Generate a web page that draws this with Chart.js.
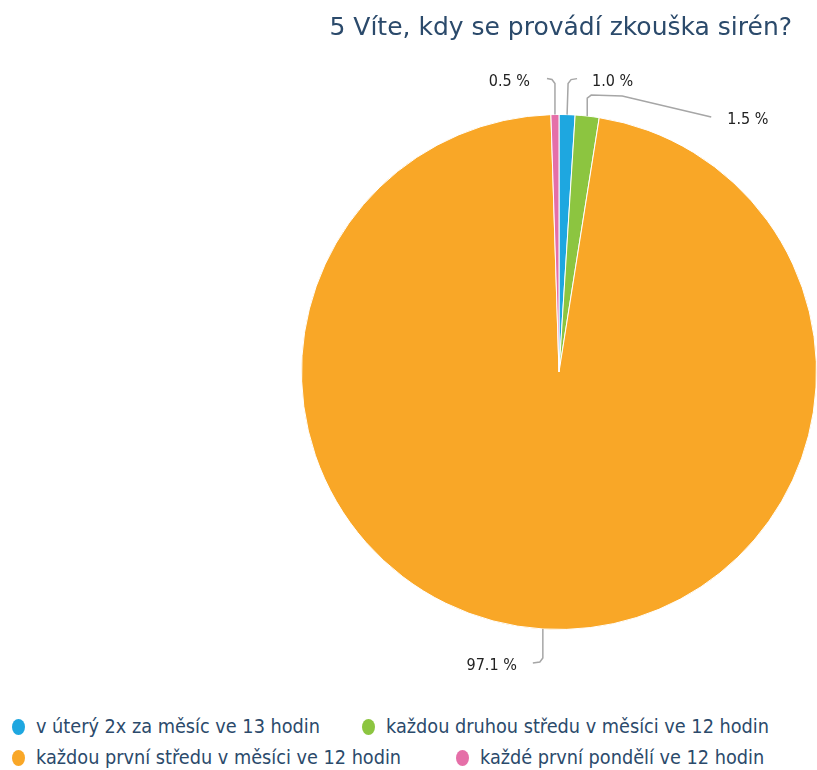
<!DOCTYPE html>
<html lang="cs">
<head>
    <meta charset="UTF-8">
    <title>5 Víte, kdy se provádí zkouška sirén?</title>
    <script src="https://cdn.jsdelivr.net/npm/chart.js"></script>
    <style>
        body { margin: 0; background: #fff; }
        #wrap { position: relative; width: 817px; height: 770px; overflow: hidden; }
        #box { position: absolute; left: 0; top: 0; width: 817px; height: 700px; }
        #title {
            position: absolute; right: 25px; top: 12px;
            font-family: 'DejaVu Sans', sans-serif; font-size: 25px; color: #2b4a6b;
            white-space: nowrap; line-height: 30px;
        }
        .leg {
            position: absolute; font-family: 'DejaVu Sans Condensed', 'DejaVu Sans', sans-serif;
            font-size: 19.7px; color: #2b4a6b; white-space: nowrap; line-height: 22px;
        }
        .leg i {
            display: inline-block; width: 13px; height: 16px; border-radius: 50%;
            vertical-align: -2px; margin-right: 11px;
        }
    </style>
</head>
<body>
<div id="wrap">
    <div id="box"><canvas id="pie"></canvas></div>
    <div id="title">5 Víte, kdy se provádí zkouška sirén?</div>
    <div id="legend"></div>
</div>
<script>
    const categories = [
        'v úterý 2x za měsíc ve 13 hodin',
        'každou druhou středu v měsíci ve 12 hodin',
        'každou první středu v měsíci ve 12 hodin',
        'každé první pondělí ve 12 hodin'
    ];
    const shares = [1.0, 1.5, 97.1, 0.5];
    const colors = ['#1ea7e0', '#8cc540', '#f9a727', '#e56fa8'];

    // legend, placed like the original (two rows)
    const legendPos = [[12, 716], [362, 716], [12, 747], [456, 747]];
    const legend = document.getElementById('legend');
    categories.forEach((c, i) => {
        const d = document.createElement('div');
        d.className = 'leg';
        d.style.left = legendPos[i][0] + 'px';
        d.style.top = legendPos[i][1] + 'px';
        d.innerHTML = '<i style="background:' + colors[i] + '"></i>' + c;
        legend.appendChild(d);
    });

    // leader lines: points relative to the slice anchor, then label anchor
    const leaders = [
        { pts: [[0, 0], [1, -31], [4, -35], [10, -36]], label: [25, -33], align: 'left' },
        { pts: [[0, 0], [0, -18], [4, -21], [35, -20], [124, 1]], label: [140, 4], align: 'left' },
        { pts: [[0, 0], [0, 29], [-3, 33], [-10, 34]], label: [-26, 37], align: 'right' },
        { pts: [[0, 0], [0, -31], [-3, -35], [-8, -36]], label: [-25, -33], align: 'right' }
    ];

    const labelPlugin = {
        id: 'leaderLabels',
        afterDatasetsDraw(chart) {
            const ctx = chart.ctx;
            const meta = chart.getDatasetMeta(0);
            ctx.save();
            meta.data.forEach((arc, i) => {
                const p = arc.getProps(['x', 'y', 'startAngle', 'endAngle', 'outerRadius'], true);
                const mid = (p.startAngle + p.endAngle) / 2;
                const ax = p.x + Math.cos(mid) * p.outerRadius;
                const ay = p.y + Math.sin(mid) * p.outerRadius;
                const L = leaders[i];
                ctx.beginPath();
                L.pts.forEach((pt, k) => {
                    if (k === 0) ctx.moveTo(ax + pt[0], ay + pt[1]);
                    else ctx.lineTo(ax + pt[0], ay + pt[1]);
                });
                ctx.strokeStyle = '#a6a6a6';
                ctx.lineWidth = 1.5;
                ctx.stroke();
                ctx.font = '16px "DejaVu Sans Condensed", "DejaVu Sans", sans-serif';
                ctx.fillStyle = '#222';
                ctx.textAlign = L.align;
                ctx.textBaseline = 'middle';
                ctx.fillText(shares[i].toFixed(1) + ' %', ax + L.label[0], ay + L.label[1]);
            });
            ctx.restore();
        }
    };

    new Chart(document.getElementById('pie'), {
        type: 'pie',
        data: {
            labels: categories,
            datasets: [{
                data: shares,
                backgroundColor: colors,
                borderColor: '#ffffff',
                borderWidth: 1
            }]
        },
        options: {
            responsive: true,
            maintainAspectRatio: false,
            animation: false,
            layout: { padding: { left: 301, top: 113, right: 0, bottom: 69 } },
            plugins: {
                legend: { display: false },
                title: { display: false },
                tooltip: { enabled: false }
            }
        },
        plugins: [labelPlugin]
    });
</script>
</body>
</html>
